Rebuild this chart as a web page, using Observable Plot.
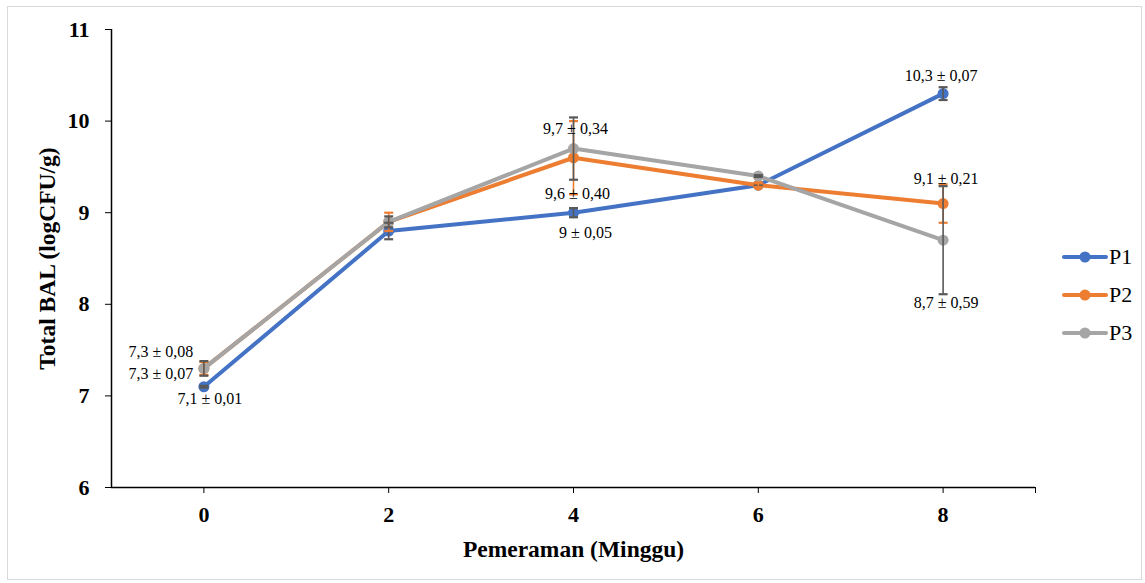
<!DOCTYPE html>
<html>
<head>
<meta charset="utf-8">
<script src="https://cdn.jsdelivr.net/npm/d3@7"></script>
<script src="https://cdn.jsdelivr.net/npm/@observablehq/plot@0.6"></script>
<style>
  html, body { margin: 0; padding: 0; background: #fff; }
  #wrap { position: relative; width: 1145px; height: 583px; overflow: hidden; font-family: "Liberation Serif", "Times New Roman", serif; }
  #border { position: absolute; left: 7px; top: 6px; width: 1135px; height: 574px; border: 1px solid #d9d9d9; box-sizing: border-box; }
  #chart { position: absolute; left: 0; top: 0; }
  #legend { position: absolute; left: 1062px; top: 238px; font-size: 22px; color: #000; }
  .li { display: flex; align-items: center; height: 38px; }
  .li svg { margin-right: 1px; }
</style>
</head>
<body>
<div id="wrap">
  <div id="border"></div>
  <div id="chart"></div>
  <div id="legend"></div>
</div>
<script>
// ---- data ----
const weeks = [0, 2, 4, 6, 8];
const seriesNames = ["P1", "P2", "P3"];
const p1Values = [7.1, 8.8, 9.0, 9.3, 10.3];
const p2Values = [7.3, 8.9, 9.6, 9.3, 9.1];
const p3Values = [7.3, 8.9, 9.7, 9.4, 8.7];
const p1Errors = [0.01, 0.09, 0.05, 0.01, 0.07];
const p2Errors = [0.07, 0.10, 0.40, 0.02, 0.21];
const p3Errors = [0.08, 0.06, 0.34, 0.01, 0.59];
const yTicks = [6, 7, 8, 9, 10, 11];
const xTicks = [0, 2, 4, 6, 8];
// which points carry a "mean ± sd" label: [series, week]
const labelledPoints = [
  ["P3", 0], ["P2", 0], ["P1", 0],
  ["P3", 4], ["P2", 4], ["P1", 4],
  ["P1", 8], ["P2", 8], ["P3", 8]
];

// ---- styling (not data) ----
const colors = { P1: "#4472C4", P2: "#ED7D31", P3: "#A5A5A5" };
const errColors = { P1: "#595959", P2: "#ED7D31", P3: "#595959" };
const labelOffsets = [[-43, -17], [-43, 5], [6, 12], [2, -20], [4, 36], [12, 20], [-2, -18], [3, -25], [3, 63]];

const valuesBy = { P1: p1Values, P2: p2Values, P3: p3Values };
const errorsBy = { P1: p1Errors, P2: p2Errors, P3: p3Errors };
const rows = seriesNames.flatMap(s => weeks.map((w, i) => ({
  series: s, week: w, value: valuesBy[s][i], err: errorsBy[s][i]
})));

const fmt = v => String(v).replace(".", ",");
const labelRows = labelledPoints.map(([s, w]) => rows.find(r => r.series === s && r.week === w));

const capSymbol = { draw(ctx, size) { const r = Math.sqrt(size / Math.PI); ctx.moveTo(-r, 0); ctx.lineTo(r, 0); } };

const marks = [
  Plot.axisY({ ticks: yTicks, tickSize: 6, tickPadding: 16, fontSize: 22, fontWeight: "bold",
    tickFormat: d => String(d),
    label: "Total BAL (logCFU/g)", labelAnchor: "center", labelArrow: "none", labelOffset: 73 }),
  Plot.axisX({ ticks: [...xTicks, 9], tickSize: 6, tickPadding: 13, fontSize: 22, fontWeight: "bold",
    tickFormat: d => d === 9 ? "" : String(d),
    label: "Pemeraman (Minggu)", labelAnchor: "center", labelArrow: "none", labelOffset: 69 }),
  Plot.ruleX([-1], { stroke: "#000", strokeWidth: 1.5 }),
  Plot.ruleY([6], { stroke: "#000", strokeWidth: 1.5 })
];

for (const s of seriesNames) {
  const d = rows.filter(r => r.series === s);
  marks.push(Plot.line(d, { x: "week", y: "value", stroke: colors[s], strokeWidth: 4, strokeLinejoin: "round" }));
  marks.push(Plot.dot(d, { x: "week", y: "value", fill: colors[s], r: 5.5 }));
}
for (const s of seriesNames) {
  const d = rows.filter(r => r.series === s);
  marks.push(Plot.ruleX(d, { x: "week", y1: r => r.value - r.err, y2: r => r.value + r.err, stroke: errColors[s], strokeWidth: 1.6 }));
  marks.push(Plot.dot(d, { x: "week", y: r => r.value - r.err, symbol: capSymbol, r: 4.5, stroke: errColors[s], strokeWidth: 2.2 }));
  marks.push(Plot.dot(d, { x: "week", y: r => r.value + r.err, symbol: capSymbol, r: 4.5, stroke: errColors[s], strokeWidth: 2.2 }));
}
labelRows.forEach((r, i) => {
  marks.push(Plot.text([r], {
    x: "week", y: "value", text: d => `${fmt(d.value)} ± ${d.err.toFixed(2).replace(".", ",")}`,
    dx: labelOffsets[i][0], dy: labelOffsets[i][1], fontSize: 16, fill: "#000"
  }));
});

const chart = Plot.plot({
  width: 1145, height: 583,
  marginLeft: 111, marginRight: 110, marginTop: 29, marginBottom: 96,
  x: { domain: [-1, 9] },
  y: { domain: [6, 11] },
  style: { fontFamily: "'Liberation Serif', 'Times New Roman', serif", background: "transparent", color: "#000", overflow: "visible" },
  marks
});
chart.querySelectorAll("[aria-label='x-axis label'] text, [aria-label='y-axis label'] text").forEach(t => {
  t.setAttribute("font-weight", "bold");
  t.setAttribute("font-size", "23.5");
});
document.getElementById("chart").appendChild(chart);

// legend
const legend = document.getElementById("legend");
for (const s of seriesNames) {
  const row = document.createElement("div");
  row.className = "li";
  row.innerHTML = `<svg width="46" height="14"><line x1="2" y1="7" x2="44" y2="7" stroke="${colors[s]}" stroke-width="4" stroke-linecap="round"/><circle cx="23" cy="7" r="5.5" fill="${colors[s]}"/></svg><span>${s}</span>`;
  legend.appendChild(row);
}
</script>
</body>
</html>
